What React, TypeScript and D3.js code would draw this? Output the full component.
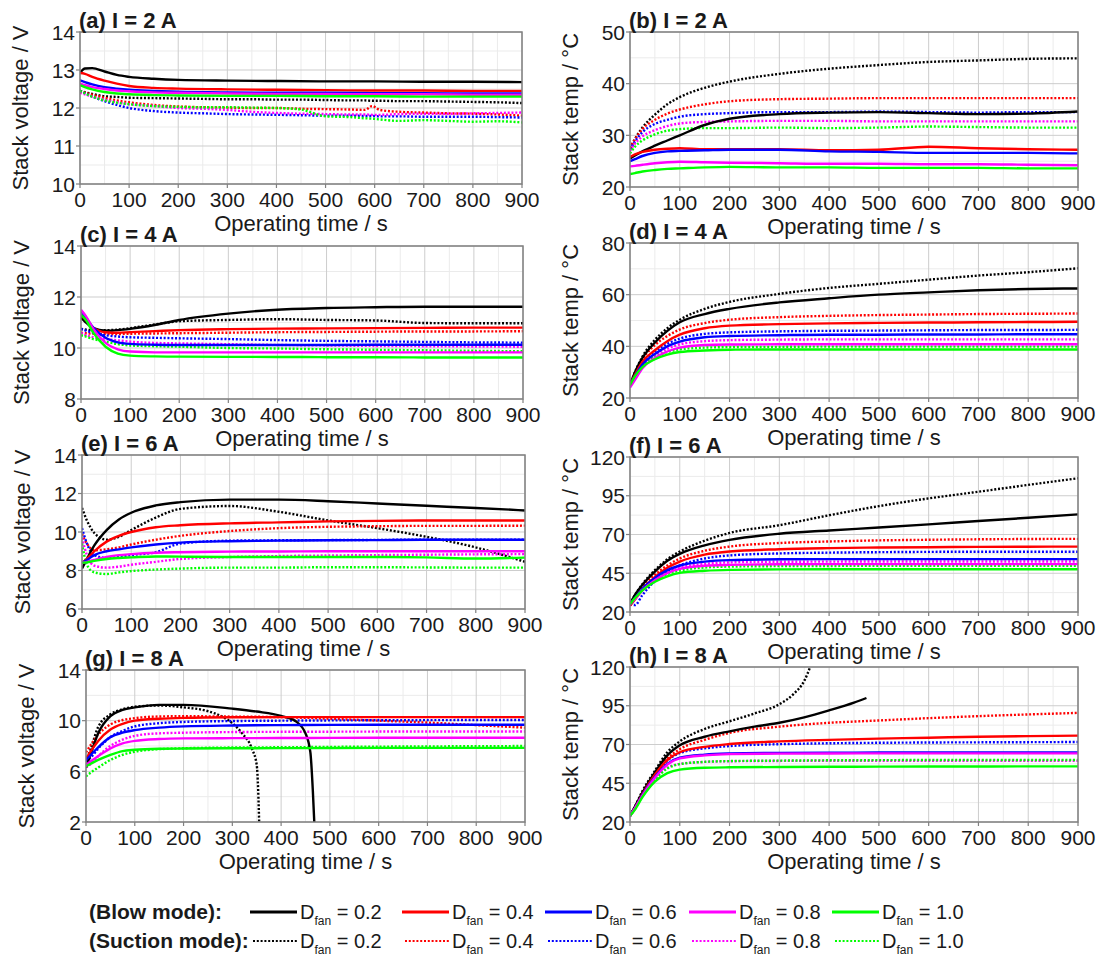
import React from "react";
import * as d3 from "d3";

// time grids (s)
const TIME = [0, 10, 25, 50, 75, 100, 150, 200, 300, 400, 500, 600, 700, 800, 900];
const TIME_A_SUCTION = [0, 25, 50, 75, 100, 150, 200, 250, 300, 350, 400, 450, 500, 550, 580, 595, 610, 650, 700, 750, 800, 850, 900];
const TIME_G_BLOW_02 = [0, 10, 25, 50, 75, 100, 150, 200, 300, 350, 400, 430, 450, 460, 465, 468];
const TIME_G_SUCTION_02 = [0, 10, 25, 50, 75, 100, 150, 200, 250, 280, 300, 320, 340, 350, 353, 355];
const TIME_H_BLOW_02 = [0, 10, 25, 50, 75, 100, 150, 200, 250, 300, 350, 400, 450, 475];
const TIME_H_SUCTION_02 = [0, 10, 25, 50, 75, 100, 150, 200, 250, 300, 330, 350, 362];

const D_FAN = ["0.2", "0.4", "0.6", "0.8", "1.0"];
const COLORS = ["#000000", "#ff0000", "#0000ff", "#ff00ff", "#00ff00"];
const X_TICKS = [0, 100, 200, 300, 400, 500, 600, 700, 800, 900];

// (a) I = 2 A, stack voltage
const A_BLOW = [
  [12.92, 13.04, 13.05, 12.96, 12.87, 12.82, 12.77, 12.74, 12.72, 12.71, 12.7, 12.7, 12.69, 12.69, 12.68],
  [12.92, 12.9, 12.82, 12.72, 12.64, 12.58, 12.53, 12.51, 12.49, 12.48, 12.47, 12.46, 12.46, 12.45, 12.45],
  [12.73, 12.68, 12.62, 12.55, 12.51, 12.48, 12.45, 12.43, 12.41, 12.4, 12.4, 12.39, 12.39, 12.38, 12.38],
  [12.65, 12.6, 12.55, 12.5, 12.46, 12.44, 12.41, 12.4, 12.38, 12.37, 12.37, 12.36, 12.36, 12.35, 12.35],
  [12.6, 12.55, 12.49, 12.42, 12.38, 12.36, 12.34, 12.33, 12.32, 12.32, 12.31, 12.31, 12.3, 12.3, 12.3],
];
const A_SUCTION = [
  [12.45, 12.37, 12.31, 12.29, 12.27, 12.26, 12.25, 12.24, 12.23, 12.23, 12.22, 12.22, 12.21, 12.2, 12.2, 12.19, 12.19, 12.18, 12.18, 12.17, 12.16, 12.15, 12.13],
  [12.45, 12.35, 12.27, 12.2, 12.15, 12.08, 12.04, 12.02, 12.01, 12.0, 12.0, 11.98, 11.97, 11.96, 11.95, 12.05, 11.95, 11.9, 11.88, 11.86, 11.85, 11.83, 11.8],
  [12.45, 12.3, 12.18, 12.08, 12.0, 11.92, 11.88, 11.86, 11.84, 11.83, 11.82, 11.81, 11.8, 11.8, 11.79, 11.79, 11.78, 11.78, 11.77, 11.77, 11.77, 11.76, 11.75],
  [12.4, 12.3, 12.22, 12.15, 12.1, 12.05, 12.0, 11.98, 11.95, 11.9, 11.87, 11.85, 11.84, 11.83, 11.83, 11.82, 11.82, 11.84, 11.85, 11.85, 11.86, 11.87, 11.88],
  [12.45, 12.3, 12.2, 12.14, 12.1, 12.05, 12.03, 12.02, 12.02, 12.01, 12.0, 11.96, 11.78, 11.76, 11.73, 11.72, 11.7, 11.66, 11.68, 11.66, 11.64, 11.65, 11.62],
];

// (b) I = 2 A, stack temperature
const B_BLOW = [
  [25.5, 26.1, 26.9, 28.0, 29.0, 30.0, 32.0, 33.2, 34.1, 34.4, 34.5, 34.3, 34.1, 34.2, 34.6],
  [25.8, 26.3, 26.8, 27.2, 27.4, 27.5, 27.3, 27.3, 27.3, 27.1, 27.2, 27.8, 27.5, 27.3, 27.2],
  [25.0, 25.4, 26.0, 26.6, 26.9, 27.0, 27.1, 27.2, 27.2, 26.9, 26.8, 26.6, 26.6, 26.6, 26.5],
  [24.0, 24.1, 24.3, 24.6, 24.8, 24.9, 24.8, 24.7, 24.6, 24.5, 24.5, 24.4, 24.4, 24.3, 24.2],
  [22.5, 22.7, 23.0, 23.3, 23.5, 23.6, 23.8, 23.9, 23.8, 23.8, 23.7, 23.7, 23.7, 23.6, 23.6],
];
const B_SUCTION = [
  [27.5, 29.3, 31.5, 34.0, 36.0, 37.4, 39.2, 40.4, 41.9, 42.9, 43.6, 44.2, 44.5, 44.8, 44.9],
  [27.5, 29.2, 31.2, 33.0, 34.2, 35.0, 36.0, 36.6, 37.0, 37.1, 37.2, 37.2, 37.2, 37.2, 37.2],
  [27.2, 28.8, 30.6, 32.2, 33.0, 33.6, 34.1, 34.3, 34.5, 34.5, 34.6, 34.5, 34.4, 34.5, 34.5],
  [27.0, 28.4, 29.8, 31.0, 31.8, 32.3, 32.6, 32.7, 32.8, 32.8, 32.7, 32.7, 32.7, 32.7, 32.7],
  [26.5, 27.8, 29.0, 30.2, 30.9, 31.2, 31.4, 31.4, 31.5, 31.4, 31.5, 31.7, 31.6, 31.5, 31.5],
];

// (c) I = 4 A, stack voltage
const C_BLOW = [
  [11.2, 11.0, 10.78, 10.68, 10.7, 10.75, 10.9, 11.1, 11.35, 11.5, 11.57, 11.6, 11.62, 11.62, 11.62],
  [11.3, 11.1, 10.8, 10.62, 10.6, 10.62, 10.66, 10.7, 10.74, 10.76, 10.77, 10.78, 10.79, 10.8, 10.8],
  [11.45, 11.2, 10.8, 10.4, 10.22, 10.16, 10.13, 10.12, 10.12, 10.12, 10.12, 10.13, 10.13, 10.13, 10.13],
  [11.5, 11.25, 10.75, 10.2, 9.95, 9.86, 9.83, 9.83, 9.83, 9.83, 9.83, 9.83, 9.83, 9.83, 9.83],
  [11.3, 11.1, 10.6, 10.05, 9.78, 9.7, 9.67, 9.66, 9.65, 9.65, 9.64, 9.64, 9.63, 9.63, 9.63],
];
const C_SUCTION = [
  [10.75, 10.72, 10.7, 10.7, 10.72, 10.78, 10.92, 11.05, 11.1, 11.13, 11.1, 11.08, 10.98, 10.97, 10.97],
  [10.6, 10.58, 10.56, 10.55, 10.55, 10.56, 10.57, 10.58, 10.6, 10.62, 10.63, 10.64, 10.65, 10.65, 10.66],
  [10.75, 10.68, 10.6, 10.5, 10.45, 10.42, 10.4, 10.38, 10.35, 10.31, 10.28, 10.26, 10.24, 10.22, 10.21],
  [10.6, 10.5, 10.42, 10.35, 10.3, 10.25, 10.2, 10.18, 10.15, 10.12, 10.1, 10.08, 10.07, 10.06, 10.05],
  [10.5, 10.45, 10.35, 10.25, 10.15, 10.1, 10.07, 10.05, 10.0, 9.98, 9.95, 9.93, 9.91, 9.89, 9.87],
];

// (d) I = 4 A, stack temperature
const D_BLOW = [
  [25, 30, 35.5, 41.5, 46, 49.3, 52.5, 54.5, 57, 58.6, 60, 60.9, 61.7, 62.2, 62.4],
  [25, 29, 34, 38.5, 42, 44.5, 47, 48, 48.6, 48.9, 49.1, 49.2, 49.3, 49.4, 49.5],
  [25, 28.5, 33, 37, 40, 41.8, 43.5, 44, 44.3, 44.5, 44.5, 44.6, 44.6, 44.7, 44.7],
  [24, 27, 31.5, 35.5, 38, 39.5, 40.5, 40.7, 40.8, 40.8, 40.8, 40.8, 40.8, 40.8, 40.8],
  [25, 28.5, 32, 35, 36.8, 37.8, 38.4, 38.7, 38.8, 38.8, 38.8, 38.8, 38.8, 38.8, 38.8],
];
const D_SUCTION = [
  [25, 30, 36, 42.5, 47, 50.3, 54.5, 57.2, 60.3, 62.6, 64.2, 65.8, 67.4, 68.7, 70.2],
  [25, 29.5, 35, 40.5, 44, 46.5, 49, 50.3, 51.3, 51.8, 52.1, 52.3, 52.5, 52.6, 52.7],
  [25, 29, 33.5, 38, 41, 43, 44.8, 45.4, 45.8, 46, 46.1, 46.2, 46.3, 46.3, 46.4],
  [25, 28.5, 32.5, 36.5, 39, 40.8, 42, 42.4, 42.6, 42.7, 42.7, 42.7, 42.7, 42.7, 42.7],
  [25, 28.5, 32.5, 35.8, 37.8, 38.8, 39.5, 39.7, 39.8, 39.9, 39.9, 39.9, 39.9, 39.9, 39.9],
];

// (e) I = 6 A, stack voltage
const E_BLOW = [
  [8.1, 8.6, 9.3, 10.1, 10.65, 11.0, 11.38, 11.55, 11.68, 11.68, 11.6, 11.48, 11.36, 11.25, 11.12],
  [8.4, 8.6, 9.0, 9.5, 9.8, 10.0, 10.25, 10.35, 10.45, 10.5, 10.55, 10.58, 10.6, 10.6, 10.6],
  [8.4, 8.55, 8.8, 9.0, 9.1, 9.2, 9.35, 9.45, 9.52, 9.55, 9.57, 9.58, 9.6, 9.6, 9.6],
  [8.4, 8.45, 8.55, 8.7, 8.8, 8.85, 8.92, 8.95, 8.98, 8.99, 9.0, 9.0, 9.0, 9.0, 9.0],
  [8.4, 8.42, 8.5, 8.6, 8.65, 8.68, 8.73, 8.72, 8.7, 8.7, 8.7, 8.7, 8.68, 8.62, 8.67],
];
const E_SUCTION = [
  [11.25, 10.6, 9.95, 9.6, 9.75, 10.1, 10.75, 11.2, 11.35, 11.05, 10.6, 10.2, 9.75, 9.2, 8.45],
  [9.9, 9.4, 9.05, 9.1, 9.2, 9.35, 9.6, 9.8, 10.05, 10.2, 10.27, 10.3, 10.32, 10.32, 10.33],
  [10.2, 9.4, 8.8, 8.65, 8.7, 8.8, 8.95, 9.4, 9.55, 9.57, 9.58, 9.59, 9.6, 9.6, 9.6],
  [9.7, 8.8, 8.25, 8.15, 8.2, 8.3, 8.45, 8.6, 8.7, 8.75, 8.78, 8.8, 8.82, 8.84, 8.85],
  [9.4, 8.3, 7.9, 7.82, 7.9, 7.97, 8.05, 8.1, 8.15, 8.15, 8.17, 8.17, 8.16, 8.15, 8.15],
];

// (f) I = 6 A, stack temperature
const F_BLOW = [
  [25, 31, 37.5, 46, 53, 57.5, 63, 66.5, 70.5, 72.6, 74.5, 76.5, 78.7, 80.8, 83],
  [24, 28, 34.5, 42.5, 48.5, 52.5, 57, 59, 60.5, 61.2, 61.6, 61.8, 62, 62.1, 62.2],
  [25, 29, 35, 42, 47, 50, 52.5, 53.5, 54, 54.1, 54.1, 54.1, 54.1, 54.1, 54.1],
  [25, 28.5, 34, 40.5, 45, 47.8, 49.8, 50.4, 50.8, 50.9, 50.9, 50.9, 50.9, 50.9, 50.9],
  [25, 29, 34, 39.5, 43, 45.2, 46.6, 47.2, 47.5, 47.6, 47.6, 47.6, 47.6, 47.6, 47.6],
];
const F_SUCTION = [
  [25, 31, 38, 47, 54, 59, 66, 71, 76, 82.4, 88.3, 93.3, 97.6, 102, 106.3],
  [25, 30, 36, 44, 50, 54.5, 59.5, 62.2, 64.5, 65.5, 66.2, 66.6, 66.9, 67.1, 67.2],
  [25, 24.5, 31, 40, 46, 50, 54.5, 56.5, 57.8, 58.3, 58.6, 58.8, 58.9, 58.9, 58.9],
  [25, 28.5, 34, 40.5, 45.5, 48.5, 51, 52, 52.4, 52.5, 52.6, 52.6, 52.6, 52.6, 52.6],
  [25, 29, 34.5, 40.5, 44.5, 46.8, 48.7, 49.3, 49.6, 49.7, 49.8, 49.8, 49.8, 49.8, 49.8],
];

// (g) I = 8 A, stack voltage
const G_BLOW = [
  [6.3, 7.4, 9.0, 10.35, 10.85, 11.05, 11.25, 11.25, 10.95, 10.72, 10.38, 9.95, 9.0, 7.5, 4.5, 2.0],
  [7.0, 7.6, 8.4, 9.3, 9.75, 10.0, 10.15, 10.22, 10.27, 10.28, 10.28, 10.28, 10.28, 10.28, 10.28],
  [6.9, 7.3, 7.9, 8.7, 9.05, 9.25, 9.45, 9.55, 9.62, 9.65, 9.67, 9.68, 9.68, 9.68, 9.68],
  [6.5, 6.8, 7.2, 7.8, 8.2, 8.4, 8.55, 8.6, 8.62, 8.63, 8.64, 8.65, 8.65, 8.65, 8.65],
  [6.4, 6.6, 6.9, 7.3, 7.6, 7.7, 7.78, 7.8, 7.82, 7.83, 7.84, 7.85, 7.85, 7.85, 7.85],
];
const G_SUCTION = [
  [6.8, 7.8, 9.5, 10.5, 10.9, 11.1, 11.2, 11.05, 10.75, 10.3, 9.8, 9.0, 7.8, 6.5, 4.5, 2.0],
  [7.5, 8.1, 8.9, 9.7, 10.05, 10.2, 10.33, 10.35, 10.32, 10.28, 10.15, 10.0, 9.85, 9.65, 9.45],
  [6.8, 7.1, 7.8, 8.7, 9.2, 9.55, 9.8, 9.9, 9.97, 10.0, 10.02, 10.03, 10.04, 10.05, 10.05],
  [6.3, 6.6, 7.2, 8.0, 8.5, 8.8, 9.0, 9.05, 9.1, 9.12, 9.13, 9.14, 9.15, 9.15, 9.15],
  [5.6, 5.9, 6.3, 6.9, 7.3, 7.55, 7.75, 7.82, 7.88, 7.9, 7.93, 7.95, 7.97, 7.98, 8.0],
];

// (h) I = 8 A, stack temperature
const H_BLOW = [
  [24, 30, 39, 52, 63, 69.5, 75, 78.5, 81.5, 84, 87.5, 92, 97, 100],
  [24, 29, 38, 50.5, 60, 65, 68.5, 70.3, 72, 73, 73.8, 74.4, 75, 75.4, 75.7],
  [24, 29, 37.5, 49, 57.5, 61.5, 63.5, 64.2, 64.6, 64.7, 64.8, 64.9, 64.9, 64.9, 64.9],
  [24, 29, 37, 48.5, 57, 61, 63, 63.8, 64.1, 64.2, 64.3, 64.3, 64.3, 64.3, 64.3],
  [24, 28, 36, 46, 51.5, 53.8, 55, 55.3, 55.5, 55.6, 55.7, 55.8, 55.8, 55.9, 55.9],
];
const H_SUCTION = [
  [24, 30, 40, 53, 65, 72, 80, 85, 90, 96, 103, 111, 120],
  [24, 29, 38, 51, 61, 67, 73, 77.5, 81.5, 84, 85.5, 87, 88.3, 89.4, 90.4],
  [24, 29, 38, 50, 59.5, 64.5, 67.5, 69, 70.2, 70.8, 71.1, 71.3, 71.4, 71.5, 71.6],
  [24, 28.5, 37, 48, 55, 57.5, 58.8, 59.2, 59.4, 59.5, 59.5, 59.5, 59.5, 59.5, 59.5],
  [24, 28.5, 37, 47.5, 54.5, 57.3, 58.8, 59.3, 59.6, 59.8, 59.9, 60, 60, 60, 60],
];

const V_LABEL = "Stack voltage / V";
const T_LABEL = "Stack temp / \u00B0C";
const X_LABEL = "Operating time / s";

const FONT = "'Liberation Sans', Arial, sans-serif";
const DOTS = "2 1.8";

const same = (t) => [t, t, t, t, t];

const panels = [
  { id: "a", title: "(a) I = 2 A", yLabel: V_LABEL, domain: [10, 14], ticks: [10, 11, 12, 13, 14], box: [80, 522, 32, 184], blow: A_BLOW, suction: A_SUCTION, blowT: same(TIME), suctionT: same(TIME_A_SUCTION) },
  { id: "b", title: "(b) I = 2 A", yLabel: T_LABEL, domain: [20, 50], ticks: [20, 30, 40, 50], box: [630, 1078, 32, 187], blow: B_BLOW, suction: B_SUCTION, blowT: same(TIME), suctionT: same(TIME) },
  { id: "c", title: "(c) I = 4 A", yLabel: V_LABEL, domain: [8, 14], ticks: [8, 10, 12, 14], box: [81, 523, 246, 399], blow: C_BLOW, suction: C_SUCTION, blowT: same(TIME), suctionT: same(TIME) },
  { id: "d", title: "(d) I = 4 A", yLabel: T_LABEL, domain: [20, 80], ticks: [20, 40, 60, 80], box: [630, 1078, 243, 398], blow: D_BLOW, suction: D_SUCTION, blowT: same(TIME), suctionT: same(TIME) },
  { id: "e", title: "(e) I = 6 A", yLabel: V_LABEL, domain: [6, 14], ticks: [6, 8, 10, 12, 14], box: [82, 525, 455, 609], blow: E_BLOW, suction: E_SUCTION, blowT: same(TIME), suctionT: same(TIME) },
  { id: "f", title: "(f) I = 6 A", yLabel: T_LABEL, domain: [20, 120], ticks: [20, 45, 70, 95, 120], box: [630, 1078, 457, 612], blow: F_BLOW, suction: F_SUCTION, blowT: same(TIME), suctionT: same(TIME) },
  { id: "g", title: "(g) I = 8 A", yLabel: V_LABEL, domain: [2, 14], ticks: [2, 6, 10, 14], box: [86, 525, 670, 822], blow: G_BLOW, suction: G_SUCTION, blowT: [TIME_G_BLOW_02, TIME, TIME, TIME, TIME], suctionT: [TIME_G_SUCTION_02, TIME, TIME, TIME, TIME] },
  { id: "h", title: "(h) I = 8 A", yLabel: T_LABEL, domain: [20, 120], ticks: [20, 45, 70, 95, 120], box: [630, 1078, 667, 822], blow: H_BLOW, suction: H_SUCTION, blowT: [TIME_H_BLOW_02, TIME, TIME, TIME, TIME], suctionT: [TIME_H_SUCTION_02, TIME, TIME, TIME, TIME] },
];

const Panel = ({ p }) => {
  const [x0, x1, y0, y1] = p.box;
  const x = d3.scaleLinear().domain([0, 900]).range([x0, x1]);
  const y = d3.scaleLinear().domain(p.domain).range([y1, y0]);
  const minorX = X_TICKS.slice(0, -1).map((t) => t + 50);
  const minorY = d3.pairs(p.ticks).map(([a, b]) => (a + b) / 2);
  const line = d3
    .line()
    .x((d) => x(d[0]))
    .y((d) => y(d[1]))
    .curve(d3.curveMonotoneX);
  const pts = (times, vals) => times.map((t, k) => [t, vals[k]]);
  const clipId = `clip-${p.id}`;

  return (
    <g>
      <defs>
        <clipPath id={clipId}>
          <rect x={x0} y={y0} width={x1 - x0} height={y1 - y0} />
        </clipPath>
      </defs>
      {minorX.map((t) => (
        <line key={"mx" + t} x1={x(t)} x2={x(t)} y1={y0} y2={y1} stroke="#ebebeb" strokeWidth={1} />
      ))}
      {minorY.map((t) => (
        <line key={"my" + t} x1={x0} x2={x1} y1={y(t)} y2={y(t)} stroke="#ebebeb" strokeWidth={1} />
      ))}
      {X_TICKS.map((t) => (
        <line key={"gx" + t} x1={x(t)} x2={x(t)} y1={y0} y2={y1} stroke="#cdcdcd" strokeWidth={1} />
      ))}
      {p.ticks.map((t) => (
        <line key={"gy" + t} x1={x0} x2={x1} y1={y(t)} y2={y(t)} stroke="#cdcdcd" strokeWidth={1} />
      ))}
      <g clipPath={`url(#${clipId})`}>
        {p.suction.map((vals, i) => (
          <path
            key={"s" + i}
            d={line(pts(p.suctionT[i], vals))}
            fill="none"
            stroke={COLORS[i]}
            strokeWidth={2.4}
            strokeDasharray={DOTS}
          />
        ))}
        {p.blow.map((vals, i) => (
          <path key={"b" + i} d={line(pts(p.blowT[i], vals))} fill="none" stroke={COLORS[i]} strokeWidth={2.4} />
        ))}
      </g>
      <rect x={x0} y={y0} width={x1 - x0} height={y1 - y0} fill="none" stroke="#808080" strokeWidth={1.5} />
      {X_TICKS.map((t) => (
        <g key={"xt" + t}>
          <line x1={x(t)} x2={x(t)} y1={y1} y2={y1 + 4} stroke="#808080" strokeWidth={1.2} />
          <text x={x(t)} y={y1 + 23} textAnchor="middle" fontSize={21} fill="#1a1a1a">
            {t}
          </text>
        </g>
      ))}
      {p.ticks.map((t) => (
        <g key={"yt" + t}>
          <line x1={x0 - 4} x2={x0} y1={y(t)} y2={y(t)} stroke="#808080" strokeWidth={1.2} />
          <text x={x0 - 5} y={y(t)} dy="0.36em" textAnchor="end" fontSize={21} fill="#1a1a1a">
            {t}
          </text>
        </g>
      ))}
      <text x={(x0 + x1) / 2} y={y1 + 47} textAnchor="middle" fontSize={22} fill="#1a1a1a">
        {X_LABEL}
      </text>
      <text
        transform={`translate(${x0 - 60},${(y0 + y1) / 2}) rotate(-90)`}
        dy="0.35em"
        textAnchor="middle"
        fontSize={22}
        fill="#1a1a1a"
      >
        {p.yLabel}
      </text>
      <text x={x0 - 1} y={y0 - 4} fontSize={22} fontWeight="bold" fill="#1a1a1a">
        {p.title}
      </text>
    </g>
  );
};

const LEGEND_X = [250, 402, 545, 689, 832];

const Legend = () => {
  const rows = [
    { label: "(Blow mode):", y: 912, dashed: false },
    { label: "(Suction mode):", y: 941, dashed: true },
  ];
  return (
    <g>
      {rows.map((r) => (
        <g key={r.label}>
          <text x={89} y={r.y} dy="0.35em" fontSize={21} fontWeight="bold" fill="#1a1a1a">
            {r.label}
          </text>
          {D_FAN.map((d, i) => (
            <g key={d}>
              <line
                x1={LEGEND_X[i] + (r.dashed ? 3 : 0)}
                x2={LEGEND_X[i] + 47}
                y1={r.y}
                y2={r.y}
                stroke={COLORS[i]}
                strokeWidth={r.dashed ? 2 : 3}
                strokeDasharray={r.dashed ? DOTS : undefined}
              />
              <text x={LEGEND_X[i] + 50} y={r.y} dy="0.35em" fontSize={20} fill="#1a1a1a">
                <tspan>D</tspan>
                <tspan fontSize={12} dy={6}>
                  fan
                </tspan>
                <tspan dy={-6}>{` = ${d}`}</tspan>
              </text>
            </g>
          ))}
        </g>
      ))}
    </g>
  );
};

export default function App() {
  return (
    <svg
      width={1104}
      height={959}
      style={{ position: "absolute", left: 0, top: 0, background: "#ffffff" }}
      fontFamily={FONT}
    >
      <rect width={1104} height={959} fill="#ffffff" />
      {panels.map((p) => (
        <Panel key={p.id} p={p} />
      ))}
      <Legend />
    </svg>
  );
}
